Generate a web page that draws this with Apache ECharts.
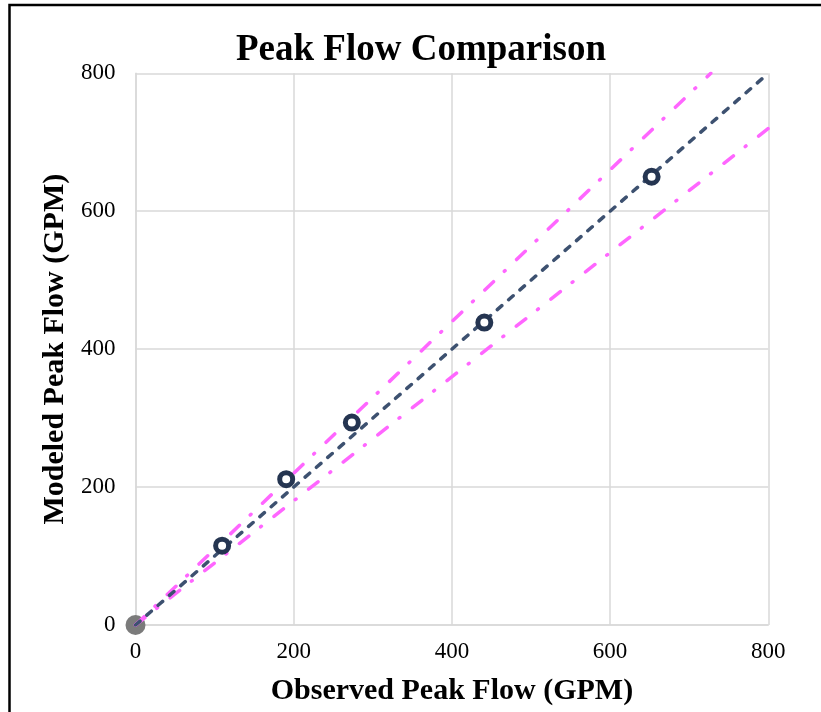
<!DOCTYPE html>
<html>
<head>
<meta charset="utf-8">
<script src="https://cdn.jsdelivr.net/npm/echarts@6/dist/echarts.min.js"></script>
<style>
html,body{margin:0;padding:0;background:#fff;}
#chart{width:821px;height:712px;}
</style>
</head>
<body>
<div id="chart"></div>
<script>
// Data
var titleText = 'Peak Flow Comparison';
var xAxisName = 'Observed Peak Flow (GPM)';
var yAxisName = 'Modeled Peak Flow (GPM)';
var axisTicks = [0, 200, 400, 600, 800];

var observed = [109.5, 190.5, 273.5, 441, 652.5];
var modeled  = [115, 211.5, 293.5, 438.5, 650];
var originX = [0];
var originY = [0];

// 1:1 line and +/-10% lines (endpoints)
var oneToOneX = [0, 800];
var oneToOneY = [0, 800];
var upperX = [0, 727.3];
var upperY = [0, 800];
var lowerX = [0, 800];
var lowerY = [0, 720];

function pairs(xs, ys) { return xs.map(function (x, i) { return [x, ys[i]]; }); }

var serif = '"Liberation Serif", "Times New Roman", serif';
var gridColor = '#d9d9d9';

var chart = echarts.init(document.getElementById('chart'), null, {renderer: 'canvas'});
chart.setOption({
  animation: false,
  backgroundColor: '#fff',
  title: {
    text: titleText,
    left: 231,
    top: 27,
    textStyle: {fontFamily: serif, fontWeight: 'bold', fontSize: 37, color: '#000'}
  },
  grid: {left: 135.5, right: 52.7, top: 73.3, bottom: 87, containLabel: false},
  xAxis: {
    type: 'value',
    min: axisTicks[0], max: axisTicks[axisTicks.length - 1], interval: 200,
    name: xAxisName,
    nameLocation: 'middle',
    nameGap: 51,
    nameTextStyle: {fontFamily: serif, fontWeight: 'bold', fontSize: 30, color: '#000'},
    axisLine: {show: true, lineStyle: {color: gridColor, width: 1.5}},
    axisTick: {show: false},
    axisLabel: {fontFamily: serif, fontSize: 23, color: '#000', margin: 15},
    splitLine: {show: true, lineStyle: {color: gridColor, width: 1.5}}
  },
  yAxis: {
    type: 'value',
    min: axisTicks[0], max: axisTicks[axisTicks.length - 1], interval: 200,
    name: yAxisName,
    nameLocation: 'middle',
    nameGap: 65,
    nameTextStyle: {fontFamily: serif, fontWeight: 'bold', fontSize: 30, color: '#000'},
    axisLine: {show: true, lineStyle: {color: gridColor, width: 1.5}},
    axisTick: {show: false},
    axisLabel: {fontFamily: serif, fontSize: 23, color: '#000', margin: 20},
    splitLine: {show: true, lineStyle: {color: gridColor, width: 1.5}}
  },
  graphic: [{
    type: 'rect',
    shape: {x: 9.5, y: 5, width: 900, height: 800},
    style: {fill: null, stroke: '#000', lineWidth: 2.5},
    silent: true,
    z: 100
  }],
  series: [
    {
      type: 'line',
      data: pairs(upperX, upperY),
      symbol: 'none',
      lineStyle: {color: '#ff66ff', width: 3.5, type: [12, 15, 1, 16], cap: 'round'},
      z: 2
    },
    {
      type: 'line',
      data: pairs(lowerX, lowerY),
      symbol: 'none',
      lineStyle: {color: '#ff66ff', width: 3.5, type: [12, 15, 1, 16], cap: 'round'},
      z: 2
    },
    {
      type: 'line',
      data: pairs(oneToOneX, oneToOneY),
      symbol: 'none',
      lineStyle: {color: '#3d5170', width: 3.5, type: [6, 9], cap: 'round'},
      z: 3
    },
    {
      type: 'scatter',
      data: pairs(originX, originY),
      symbol: 'circle',
      symbolSize: 20,
      itemStyle: {color: '#7b7b7b', opacity: 1},
      z: 1
    },
    {
      type: 'scatter',
      data: pairs(observed, modeled),
      symbol: 'circle',
      symbolSize: 13,
      itemStyle: {color: '#ffffff', borderColor: '#253551', borderWidth: 5, opacity: 1},
      z: 5
    }
  ]
});
</script>
</body>
</html>
